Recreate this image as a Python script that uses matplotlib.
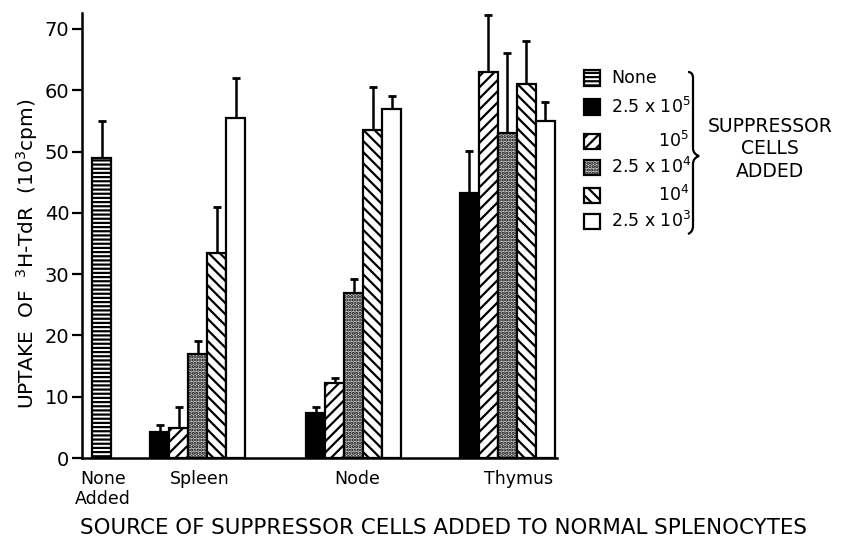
import matplotlib
matplotlib.use("Agg")
import matplotlib.pyplot as plt
from matplotlib.patches import Rectangle, PathPatch
from matplotlib.path import Path
import numpy as np

# ---------------- data ----------------
categories = ["None\nAdded", "Spleen", "Node", "Thymus"]
legend_labels = ["None", "2.5 x 10$^5$", "10$^5$", "2.5 x 10$^4$", "10$^4$", "2.5 x 10$^3$"]

none_added_value = [49.0]
none_added_err = [6.0]

# groups: Spleen, Node, Thymus
uptake_25e5 = [4.2, 7.3, 43.2]
err_25e5 = [1.2, 1.0, 6.9]
uptake_1e5 = [4.9, 12.2, 63.0]
err_1e5 = [3.4, 0.8, 9.3]
uptake_25e4 = [17.0, 27.0, 53.0]
err_25e4 = [2.1, 2.2, 13.0]
uptake_1e4 = [33.4, 53.5, 61.0]
err_1e4 = [7.5, 7.0, 7.0]
uptake_25e3 = [55.5, 57.0, 55.0]
err_25e3 = [6.5, 2.0, 3.0]

yticks = [0, 10, 20, 30, 40, 50, 60, 70]

# ---------------- style ----------------
plt.rcParams["font.family"] = ["DejaVu Sans"]
plt.rcParams["hatch.linewidth"] = 1.6
plt.rcParams["hatch.color"] = "black"

styles = [
    dict(facecolor="white", hatch="----"),     # None
    dict(facecolor="black", hatch=None),       # 2.5x10^5
    dict(facecolor="white", hatch="///"),      # 10^5
    dict(facecolor="#d4d4d4", hatch="....."),  # 2.5x10^4
    dict(facecolor="white", hatch="\\\\\\"),   # 10^4
    dict(facecolor="white", hatch=None),       # 2.5x10^3
]

W, H = 843, 537
fig = plt.figure(figsize=(W / 100, H / 100), dpi=100)

def fx(px):
    return px / W

def fy(py):
    return 1 - py / H

ax = fig.add_axes([fx(82), fy(458), fx(557) - fx(82), fy(13) - fy(458)])

bar_w = 1.0
none_center = 1.05
group_starts = [3.58, 11.79, 19.89]  # left edge of first bar in each group

def draw(xs, vals, errs, style):
    ax.bar(xs, vals, width=bar_w, edgecolor="black", linewidth=1.6,
           zorder=2, **style)
    eb = ax.errorbar(xs, vals, yerr=[np.zeros(len(vals)), errs], fmt="none",
                     ecolor="black", elinewidth=1.8, capsize=3.2,
                     capthick=2.0, zorder=3)
    eb[1][0].set_visible(False)

draw([none_center], none_added_value, none_added_err, styles[0])

series = [(uptake_25e5, err_25e5), (uptake_1e5, err_1e5), (uptake_25e4, err_25e4),
          (uptake_1e4, err_1e4), (uptake_25e3, err_25e3)]
for i, (vals, errs) in enumerate(series):
    xs = [s + bar_w * (i + 0.5) for s in group_starts]
    draw(xs, vals, errs, styles[i + 1])

ax.set_xlim(0, 25.0)
ax.set_ylim(0, 72.6)
ax.set_yticks(yticks)
ax.set_yticklabels([str(t) for t in yticks], fontsize=14)
ax.tick_params(axis="y", direction="out", length=7, width=1.6, pad=2)
ax.set_xticks([1.1, 6.2, 14.5, 23.0])
ax.set_xticklabels(categories, fontsize=12.5, linespacing=1.1)
ax.tick_params(axis="x", length=0, pad=9)
for sp in ["top", "right"]:
    ax.spines[sp].set_visible(False)
for sp in ["left", "bottom"]:
    ax.spines[sp].set_linewidth(1.8)

fig.text(fx(27), fy(254), "UPTAKE  OF  $^3$H-TdR  (10$^3$cpm)", rotation=90,
         ha="center", va="center", fontsize=14.5)
fig.text(fx(444), fy(528), "SOURCE OF SUPPRESSOR CELLS ADDED TO NORMAL SPLENOCYTES",
         ha="center", va="center", fontsize=15.4)

# ---------------- legend ----------------
row_y = [78, 107, 141, 167, 195, 221]
sw, sh = 16, 15
for i, (lab, y) in enumerate(zip(legend_labels, row_y)):
    st = styles[i]
    rect = Rectangle((fx(584), fy(y + sh / 2)), fx(sw), sh / H,
                     transform=fig.transFigure, facecolor=st["facecolor"],
                     hatch=st["hatch"], edgecolor="black", linewidth=1.6)
    fig.add_artist(rect)
    if i in (2, 4):
        fig.text(fx(689), fy(y), lab, ha="right", va="center", fontsize=12.5)
    else:
        fig.text(fx(611), fy(y), lab, ha="left", va="center", fontsize=12.5)

# brace
bx = 693
pts = [
    (bx - 5, 72), (bx, 72), (bx, 78), (bx, 84),
    (bx, 148),
    (bx, 154), (bx + 6, 156),
    (bx, 158), (bx, 164),
    (bx, 226),
    (bx, 232), (bx - 5, 234),
]
codes = [Path.MOVETO, Path.CURVE3, Path.CURVE3, Path.LINETO,
         Path.LINETO,
         Path.CURVE3, Path.CURVE3,
         Path.CURVE3, Path.CURVE3,
         Path.LINETO,
         Path.CURVE3, Path.CURVE3]
path = Path([(fx(x), fy(y)) for x, y in pts], codes)
fig.add_artist(PathPatch(path, transform=fig.transFigure, fill=False,
                         edgecolor="black", linewidth=1.6))

fig.text(fx(770), fy(149), "SUPPRESSOR\nCELLS\nADDED", ha="center", va="center",
         fontsize=13.5, linespacing=1.25, multialignment="center")

fig.savefig("out.png", dpi=100)
